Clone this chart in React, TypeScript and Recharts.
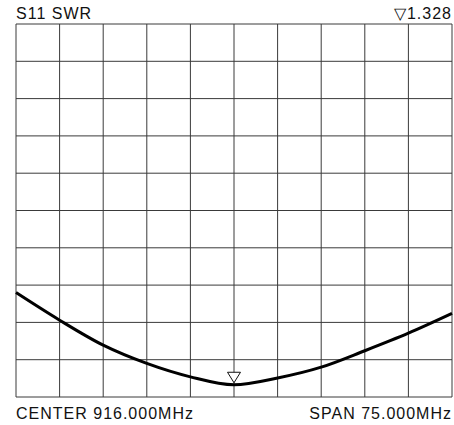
import React from "react";
import { LineChart, Line, XAxis, YAxis, ReferenceLine, ReferenceDot } from "recharts";

// sweep: center 916 MHz, span 75 MHz
const freqMHz = [878.5, 886, 893.5, 901, 908.5, 916, 923.5, 931, 938.5, 946, 953.5];
const swr = [3.8, 3.06, 2.39, 1.9, 1.54, 1.328, 1.51, 1.8, 2.24, 2.71, 3.24];

const freqTicks = [878.5, 886, 893.5, 901, 908.5, 916, 923.5, 931, 938.5, 946, 953.5];
const swrTicks = [1, 2, 3, 4, 5, 6, 7, 8, 9, 10, 11];

const markerFreq = 916;
const markerSwr = 1.328;

const data = freqMHz.map((f, i) => ({ f, swr: swr[i] }));

const gridColor = "#3a3a3a";

const textStyle: React.CSSProperties = {
  position: "absolute",
  fontFamily: "'Liberation Sans', Arial, sans-serif",
  fontSize: 16,
  letterSpacing: 1,
  color: "#111",
  lineHeight: "16px",
  whiteSpace: "nowrap",
};

const Marker = (props: any) => {
  const { cx, cy } = props;
  const tip = cy - 2;
  return (
    <polygon
      points={`${cx - 6.5},${tip - 10.5} ${cx + 6.5},${tip - 10.5} ${cx},${tip}`}
      fill="#fff"
      stroke="#111"
      strokeWidth={1}
    />
  );
};

export default function App() {
  return (
    <div style={{ position: "fixed", left: 0, top: 0, width: 454, height: 425, background: "#fff" }}>
      <LineChart width={454} height={425} data={data} margin={{ top: 24, right: 2, bottom: 28, left: 16 }}>
        <XAxis
          dataKey="f"
          type="number"
          domain={[878.5, 953.5]}
          ticks={freqTicks}
          tick={false}
          axisLine={false}
          tickLine={false}
          height={0}
        />
        <YAxis
          type="number"
          domain={[1, 11]}
          ticks={swrTicks}
          tick={false}
          axisLine={false}
          tickLine={false}
          width={0}
        />
        {freqTicks.map((v) => (
          <ReferenceLine key={`x-${v}`} x={v} stroke={gridColor} strokeWidth={1} />
        ))}
        {swrTicks.map((v) => (
          <ReferenceLine key={`y-${v}`} y={v} stroke={gridColor} strokeWidth={1} />
        ))}
        <Line
          type="monotone"
          dataKey="swr"
          stroke="#000"
          strokeWidth={3}
          dot={false}
          isAnimationActive={false}
        />
        <ReferenceDot x={markerFreq} y={markerSwr} shape={Marker} />
      </LineChart>
      <div style={{ ...textStyle, left: 16, top: 6 }}>S11 SWR</div>
      <div style={{ ...textStyle, right: 2, top: 6 }}>▽1.328</div>
      <div style={{ ...textStyle, left: 16, top: 406 }}>CENTER 916.000MHz</div>
      <div style={{ ...textStyle, right: 2, top: 406 }}>SPAN 75.000MHz</div>
    </div>
  );
}
